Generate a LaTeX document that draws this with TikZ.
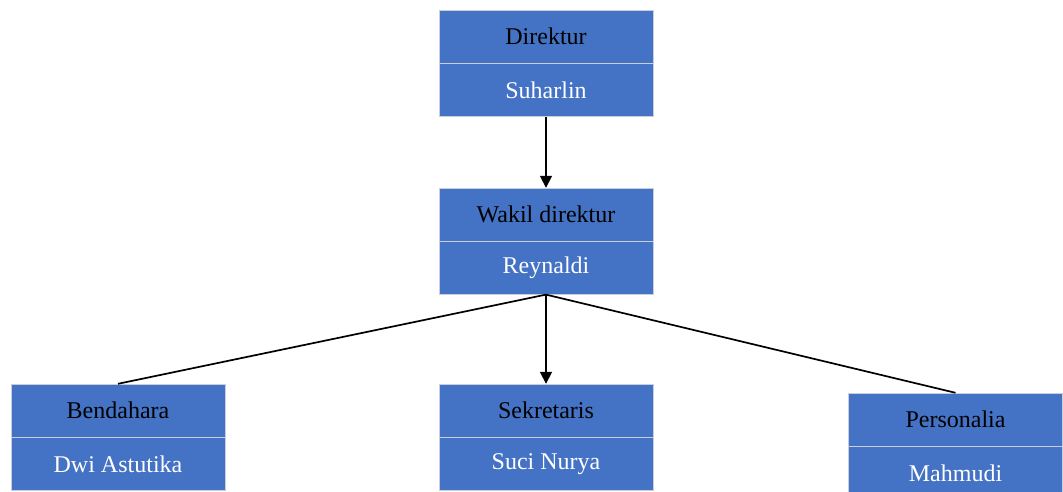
\documentclass[tikz,border=0pt]{standalone}
\usepackage{fontspec}
\setmainfont{Liberation Serif}
\usepackage{xcolor}
\usetikzlibrary{positioning,arrows.meta}
\definecolor{boxblue}{HTML}{4472C4}
\definecolor{boxline}{HTML}{C9CFDA}

\begin{document}
\begin{tikzpicture}[x=1pt,y=-1pt,
		jabatan/.style={draw=boxline,fill=boxblue,minimum width=214pt,minimum height=53pt,inner sep=0pt,font=\fontsize{24}{28}\selectfont,text=black},
		nama/.style={jabatan,text=white},
		garis/.style={line width=1.7pt},
		panah/.style={garis,-{Triangle[width=12pt,length=12pt]}}]
		\useasboundingbox (0,0) rectangle (1063,492);
		\node[jabatan] (dir) at (546,36.5) {Direktur};
		\node[nama,below=0pt of dir] (dirnm) {Suharlin};
		\node[jabatan] (wak) at (546,214.5) {Wakil direktur};
		\node[nama,below=0pt of wak] (waknm) {Reynaldi};
		\node[jabatan] (ben) at (118,410.5) {Bendahara};
		\node[nama,below=0pt of ben] (bennm) {Dwi Astutika};
		\node[jabatan] (sek) at (546,410.5) {Sekretaris};
		\node[nama,below=0pt of sek] (seknm) {Suci Nurya};
		\node[jabatan] (per) at (955.5,419.5) {Personalia};
		\node[nama,below=0pt of per] (pernm) {Mahmudi};
		\draw[panah] (dirnm) -- (wak);
		\draw[panah] (waknm) -- (sek);
		\draw[garis] (waknm.south) -- (ben.north);
		\draw[garis] (waknm.south) -- (per.north);
		\end{tikzpicture}
\end{document}
